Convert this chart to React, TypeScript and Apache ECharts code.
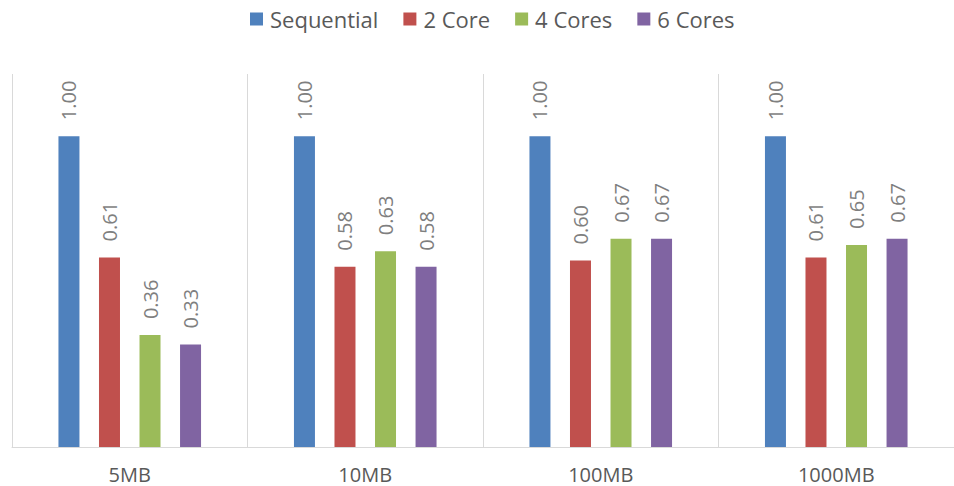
import React, { useEffect, useRef } from "react";
import * as echarts from "echarts";

const categories = ["5MB", "10MB", "100MB", "1000MB"];
const seriesNames = ["Sequential", "2 Core", "4 Cores", "6 Cores"];
const sequential = [1.0, 1.0, 1.0, 1.0];
const core2 = [0.61, 0.58, 0.6, 0.61];
const cores4 = [0.36, 0.63, 0.67, 0.65];
const cores6 = [0.33, 0.58, 0.67, 0.67];
const colors = ["#4f81bd", "#c0504d", "#9bbb59", "#8064a2"];

export default function App() {
  const ref = useRef<HTMLDivElement>(null);
  useEffect(() => {
    if (!ref.current) return;
    const chart = echarts.init(ref.current, null, { renderer: "svg" });
    const data = [sequential, core2, cores4, cores6];
    chart.setOption({
      animation: false,
      color: colors,
      textStyle: { fontFamily: "Open Sans" },
      legend: {
        top: 3,
        left: 245,
        itemWidth: 13,
        itemHeight: 13,
        itemGap: 25,
        icon: "rect",
        textStyle: { fontSize: 22, color: "#595959", fontFamily: "Open Sans", padding: [0, 0, 0, 2] },
        data: seriesNames,
      },
      grid: { left: 12, right: -4, top: 74, bottom: 39, containLabel: false },
      xAxis: {
        type: "category",
        data: categories,
        axisLine: { lineStyle: { color: "#d9d9d9", width: 1 } },
        axisTick: { show: false },
        splitLine: { show: true, interval: 0, lineStyle: { color: "#d9d9d9", width: 1 } },
        axisLabel: { fontSize: 20, color: "#595959", margin: 17, fontFamily: "Open Sans" },
      },
      yAxis: {
        type: "value",
        min: 0,
        max: 1.2,
        show: false,
        splitLine: { show: false },
      },
      series: seriesNames.map((name, i) => ({
        name,
        type: "bar",
        data: data[i],
        barWidth: 21,
        barGap: "93%",
        barCategoryGap: "40%",
        label: {
          show: true,
          position: "top",
          rotate: 90,
          align: "left",
          verticalAlign: "middle",
          distance: 16,
          fontSize: 20,
          color: "#7f7f7f",
          fontFamily: "Open Sans",
          formatter: (p: any) => p.value.toFixed(2),
        },
      })),
    });
    return () => chart.dispose();
  }, []);
  return (
    <div
      ref={ref}
      style={{ position: "fixed", left: 0, top: 0, width: 954, height: 486, background: "#fff" }}
    />
  );
}
